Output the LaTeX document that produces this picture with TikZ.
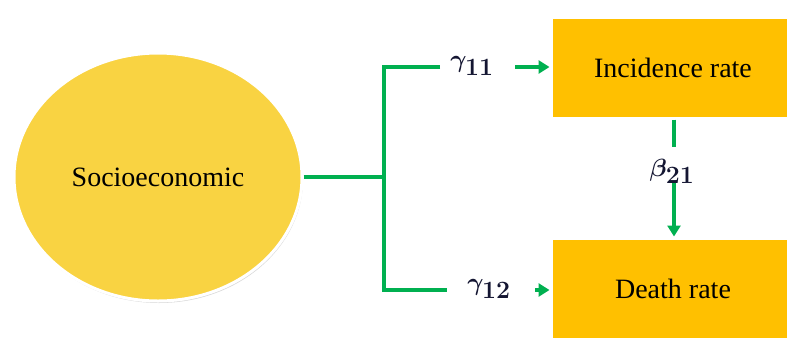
\documentclass[tikz,border=0pt]{standalone}
\usepackage{fontspec}
\setmainfont{Liberation Serif}
\usetikzlibrary{arrows.meta,shapes.geometric,shadows}
\definecolor{grn}{RGB}{0,176,80}
\definecolor{boxgold}{RGB}{255,192,0}
\definecolor{ellfill}{RGB}{249,211,66}
\definecolor{mathink}{RGB}{20,22,50}
\begin{document}
\begin{tikzpicture}[x=1pt,y=-1pt,
  conn/.style={draw=grn,line width=4pt},
  arr/.style={conn,-{Triangle[length=11pt,width=13pt]}},
  rate/.style={rectangle,fill=boxgold,draw=white,line width=3pt,
    minimum width=244pt,minimum height=101pt,inner sep=0pt,
    font=\fontsize{28}{32}\selectfont,
    drop shadow={shadow xshift=0pt,shadow yshift=-2pt,opacity=0.3}},
  lbl/.style={inner sep=0pt,text=mathink,font=\fontsize{33}{38}\selectfont\boldmath}
]
\useasboundingbox (0,0) rectangle (787,341);
\clip (0,0) rectangle (787,341);
\fill[white] (0,0) rectangle (787,341);

\node[ellipse,fill=ellfill,draw=white,line width=3pt,minimum width=288pt,minimum height=248pt,inner sep=0pt,
  font=\fontsize{28}{32}\selectfont,
  drop shadow={shadow xshift=1pt,shadow yshift=-2pt,opacity=0.3}] (soc) at (158,177) {Socioeconomic};

\node[rate] (inc) at (673,67.5) {Incidence rate};
\node[rate] (dth) at (673,288.5) {Death rate};

\node[lbl] (g11) at (472,66) {$\gamma_{11}$};
\node[lbl] (g12) at (489,289) {$\gamma_{12}$};
\node[lbl] (b21) at (672,171) {$\beta_{21}$};

\coordinate (j) at (384,177);
\coordinate (jt) at (384,67);
\coordinate (jb) at (384,290);
\coordinate (g11w) at (440,67);
\coordinate (g11e) at (515,67);
\coordinate (g12w) at (447,290);
\coordinate (g12e) at (535,290);
\coordinate (b21n) at (674,147);
\coordinate (b21s) at (674,183);

\draw[conn] (soc.east) -- (j);
\draw[conn] (g11w) -- (jt) -- (jb) -- (g12w);
\draw[arr] (g11e) -- (g11e -| inc.west);
\draw[arr] (g12e) -- (g12e -| dth.west);
\draw[conn] (inc.south -| b21n) -- (b21n);
\draw[arr] (b21s) -- (b21s |- dth.north);
\end{tikzpicture}
\end{document}
